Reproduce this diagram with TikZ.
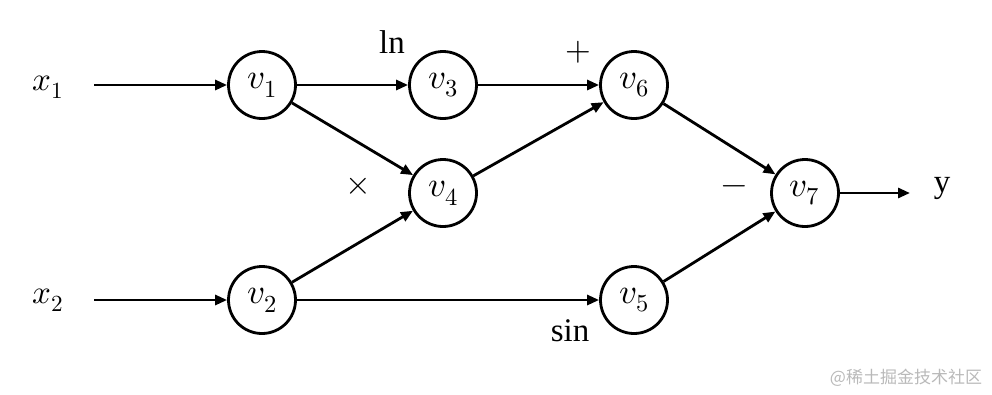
\documentclass[tikz,border=0pt]{standalone}
\usepackage{unicode-math}
\setmainfont{Liberation Serif}
\setmathfont{Latin Modern Math}
\newfontfamily\cjk{Noto Sans CJK SC}
\usetikzlibrary{arrows.meta}
\definecolor{wmgray}{RGB}{185,185,185}
\tikzset{
  vnode/.style={circle,draw,line width=2.8pt,minimum size=67pt,inner sep=0pt,font=\fontsize{35}{40}\selectfont},
  lbl/.style={inner sep=0pt,font=\fontsize{33}{38}\selectfont},
  conn/.style={line width=2.8pt,-{Triangle[length=12pt,width=10pt]}},
}
\begin{document}
\begin{tikzpicture}[x=1pt,y=-1pt]
\useasboundingbox (0,0) rectangle (992,394);
\node[vnode] (v1) at (262,85) {$v_1$};
\node[vnode] (v3) at (443,85) {$v_3$};
\node[vnode] (v6) at (634,85) {$v_6$};
\node[vnode] (v4) at (443,193) {$v_4$};
\node[vnode] (v7) at (805,193) {$v_7$};
\node[vnode] (v2) at (262,300) {$v_2$};
\node[vnode] (v5) at (634,300) {$v_5$};
\node[lbl] (x1) at (48,87) {$x_1$};
\node[lbl] (x2) at (48,300) {$x_2$};
\node[lbl] (y) at (942,188) {y};
\coordinate (x1e) at (94,85);
\coordinate (x2e) at (94,300);
\coordinate (ye) at (910,193);
\node[lbl] (ln) at (392,42) {ln};
\node[lbl] (plus) at (578,52) {$+$};
\node[lbl] (times) at (358,186) {$\times$};
\node[lbl] (minus) at (734,190) {$-$};
\node[lbl] (sin) at (570,331) {sin};
\node[inner sep=0pt,text=wmgray,font=\cjk\fontsize{17}{20}\selectfont] (wm) at (906,378) {@稀土掘金技术社区};
\draw[conn] (x1e) -- (v1);
\draw[conn] (x2e) -- (v2);
\draw[conn] (v1) -- (v3);
\draw[conn] (v1) -- (v4);
\draw[conn] (v2) -- (v4);
\draw[conn] (v2) -- (v5);
\draw[conn] (v3) -- (v6);
\draw[conn] (v4) -- (v6);
\draw[conn] (v6) -- (v7);
\draw[conn] (v5) -- (v7);
\draw[conn] (v7) -- (ye);
\end{tikzpicture}
\end{document}
